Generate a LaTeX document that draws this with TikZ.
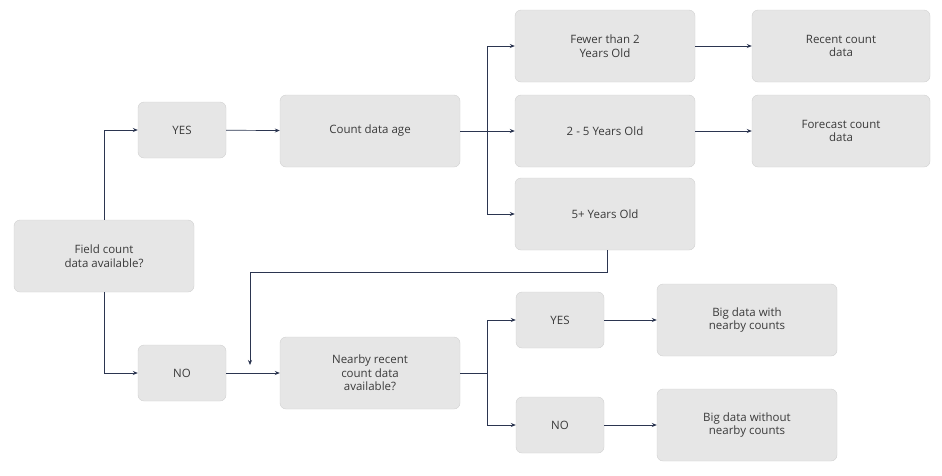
\documentclass[tikz,border=0pt]{standalone}
\usepackage{fontspec}
\setmainfont{Open Sans}
\usetikzlibrary{arrows.meta}
\definecolor{boxc}{HTML}{E6E6E6}
\definecolor{linec}{HTML}{2B3550}
\definecolor{txt}{HTML}{3A3A3A}
\begin{document}
\begin{tikzpicture}[x=1pt,y=-1pt,
 bx/.style={draw=boxc!80!gray,fill=boxc,rounded corners=6pt,minimum width=#1,align=center,text=txt,font=\fontsize{11.5}{13.5}\selectfont},
 bx/.default=180pt,
 ar/.style={draw=linec,line width=0.7pt,-{Stealth[length=5pt,width=4pt]}},
 ln/.style={draw=linec,line width=0.7pt}]
\useasboundingbox (0,0) rectangle (942,475);
\node[bx,minimum height=72pt] (field) at (104,256) {Field count\\data available?};
\node[bx=88pt,minimum height=56pt] (yes1) at (182,130) {YES};
\node[bx,minimum height=72pt] (age) at (370,131) {Count data age};
\node[bx,minimum height=72pt] (f2) at (605,46) {Fewer than 2\\Years Old};
\node[bx,minimum height=72pt] (f25) at (605,131) {2 - 5 Years Old};
\node[bx,minimum height=72pt] (f5) at (605,214) {5+ Years Old};
\node[bx=178pt,minimum height=72pt] (rec) at (841,46) {Recent count\\data};
\node[bx=178pt,minimum height=72pt] (fc) at (841,131) {Forecast count\\data};
\node[bx=88pt,minimum height=56pt] (no1) at (182,373) {NO};
\node[bx,minimum height=72pt] (near) at (370,373) {Nearby recent\\count data\\available?};
\node[bx=88pt,minimum height=56pt] (yes2) at (560,320) {YES};
\node[bx=88pt,minimum height=56pt] (no2) at (560,425) {NO};
\node[bx,minimum height=72pt] (bw) at (747,320) {Big data with\\nearby counts};
\node[bx,minimum height=72pt] (bwo) at (747,425) {Big data without\\nearby counts};
\coordinate (b1) at (487,131);
\coordinate (b2) at (487,373);
\coordinate (c1) at (250,272);
\coordinate (c2) at (250,365);
\draw[ar] (field.north) |- (yes1.west);
\draw[ar] (field.south) |- (no1.west);
\draw[ar] (yes1) -- (age);
\draw[ar] (no1) -- (near);
\draw[ln] (age.east) -- (b1);
\draw[ar] (b1) |- (f2.west);
\draw[ar] (b1) -- (f25.west);
\draw[ar] (b1) |- (f5.west);
\draw[ar] (f2) -- (rec);
\draw[ar] (f25) -- (fc);
\draw[ln] (607,250) -- (607,272) -- (c1);
\draw[ar] (c1) -- (c2);
\draw[ln] (near.east) -- (b2);
\draw[ar] (b2) |- (yes2.west);
\draw[ar] (b2) |- (no2.west);
\draw[ar] (yes2) -- (bw);
\draw[ar] (no2) -- (bwo);
\end{tikzpicture}
\end{document}
